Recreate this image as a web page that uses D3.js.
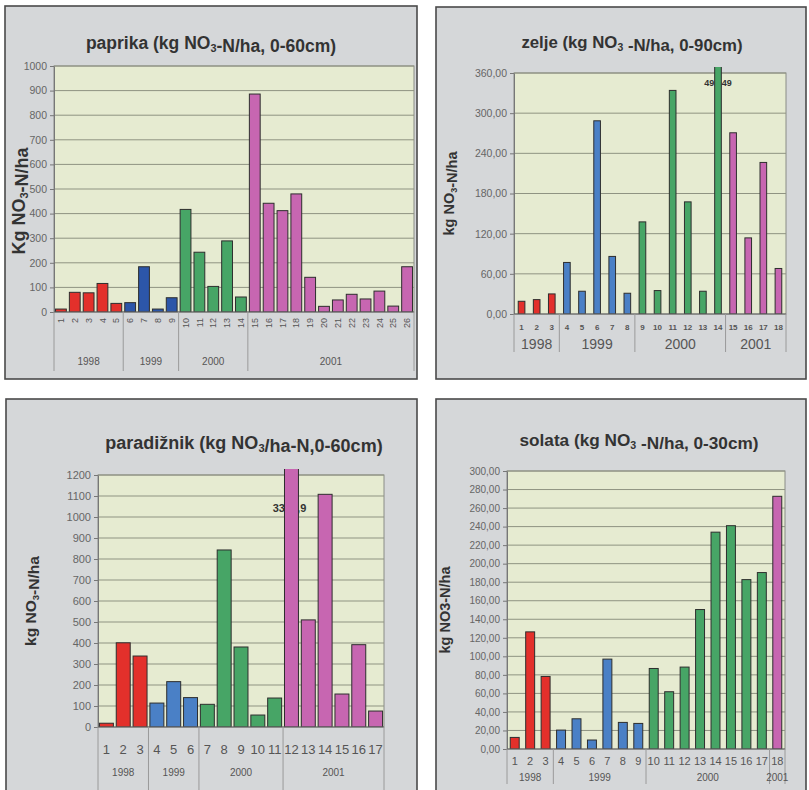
<!DOCTYPE html>
<html><head><meta charset="utf-8">
<script src="https://cdn.jsdelivr.net/npm/d3@7"></script>
<style>
body{margin:0;background:#fff}
svg{display:block}
text{font-family:"Liberation Sans",Arial,Helvetica,sans-serif}
</style>
</head><body>
<svg id="chart" width="809" height="790"></svg>
<script>
// ---- paprika (0-60 cm) ----
const paprikaCategories = d3.range(1, 27).map(String);
const paprikaValues = [12, 80, 78, 116, 35, 38, 184, 12, 58, 417, 243, 104, 289, 61, 886, 442, 412, 480, 141, 23, 49, 72, 53, 85, 24, 184];
const paprikaYears = ["1998", "1999", "2000", "2001"];
const paprikaYearSizes = [5, 4, 5, 12];
const paprikaTicks = [0, 100, 200, 300, 400, 500, 600, 700, 800, 900, 1000];

// ---- zelje (0-90 cm) ----
const zeljeCategories = d3.range(1, 19).map(String);
const zeljeValues = [19, 21.5, 30, 77, 34, 288.6, 86, 31, 137.6, 35, 334, 167.5, 34, 495.49, 270.7, 113.7, 226.4, 68];
const zeljeYears = ["1998", "1999", "2000", "2001"];
const zeljeYearSizes = [3, 5, 6, 4];
const zeljeTicks = [0, 60, 120, 180, 240, 300, 360];

// ---- paradižnik (0-60 cm) ----
const paradiznikCategories = d3.range(1, 18).map(String);
const paradiznikValues = [18, 401, 338, 114, 216, 140, 108, 843, 381, 57, 138, 3377.9, 510, 1108, 157, 392, 76];
const paradiznikYears = ["1998", "1999", "2000", "2001"];
const paradiznikYearSizes = [3, 3, 5, 6];
const paradiznikTicks = [0, 100, 200, 300, 400, 500, 600, 700, 800, 900, 1000, 1100, 1200];

// ---- solata (0-30 cm) ----
const solataCategories = d3.range(1, 19).map(String);
const solataValues = [12.5, 126.4, 78.3, 20.4, 32.6, 9.7, 97, 28.7, 27.6, 86.9, 61.8, 88.4, 150.5, 234, 241, 182.8, 190.4, 272.7];
const solataYears = ["1998", "1999", "2000", "2001"];
const solataYearSizes = [3, 6, 8, 1];
const solataTicks = d3.range(0, 301, 20);

const svg = d3.select("#chart");
const commaFormat = d => d3.format(".2f")(d).replace(".", ",");
const intFormat = d => String(d);

function addParts(textSel, parts, subSize) {
  parts.forEach(p => {
    if (p.sub) {
      textSel.append("tspan").attr("font-size", subSize).attr("dy", 3).text(p.t);
      textSel.append("tspan").attr("dy", -3).text("");
    } else {
      textSel.append("tspan").text(p.t);
    }
  });
}

function drawPanel(o) {
  const g = svg.append("g");
  // frame
  g.append("rect")
    .attr("x", o.frame.x).attr("y", o.frame.y)
    .attr("width", o.frame.w).attr("height", o.frame.h)
    .attr("fill", "#d5d7d9").attr("stroke", "#4a4a4a").attr("stroke-width", 1.6);

  // title
  const title = g.append("text")
    .attr("x", o.titleX).attr("y", o.titleY)
    .attr("text-anchor", "middle").attr("font-weight", "bold")
    .attr("font-size", o.titleSize).attr("fill", "#333");
  addParts(title, o.titleParts, o.titleSize * 0.62);

  // y title
  const yt = g.append("text")
    .attr("transform", `translate(${o.yTitleX},${(o.plot.t + o.plot.b) / 2 + o.yTitleShift}) rotate(-90)`)
    .attr("text-anchor", "middle").attr("font-weight", "bold")
    .attr("font-size", o.yTitleSize).attr("fill", "#333");
  addParts(yt, o.yTitleParts, o.yTitleSize * 0.62);

  // plot area
  g.append("rect")
    .attr("x", o.plot.l).attr("y", o.plot.t)
    .attr("width", o.plot.r - o.plot.l).attr("height", o.plot.b - o.plot.t)
    .attr("fill", "#e6ebd1").attr("stroke", "#8a8c86").attr("stroke-width", 1);

  const x = d3.scaleBand().domain(o.categories).range([o.plot.l, o.plot.r]).paddingInner(o.padding).paddingOuter(o.padding / 2);
  const y = d3.scaleLinear().domain([0, o.ticks[o.ticks.length - 1]]).range([o.plot.b, o.plot.t]);

  // grid lines
  g.append("g").selectAll("line").data(o.ticks.slice(1))
    .join("line")
    .attr("x1", o.plot.l).attr("x2", o.plot.r)
    .attr("y1", d => y(d)).attr("y2", d => y(d))
    .attr("stroke", "#8f9382").attr("stroke-width", 1);

  // y axis
  const yAxis = g.append("g").attr("transform", `translate(${o.plot.l},0)`)
    .call(d3.axisLeft(y).tickValues(o.ticks).tickFormat(o.tickFormat).tickSizeInner(4).tickSizeOuter(0).tickPadding(3));
  yAxis.select(".domain").attr("stroke", "#777");
  yAxis.selectAll(".tick line").attr("stroke", "#777");
  yAxis.selectAll(".tick text").attr("fill", "#666").attr("font-size", o.yTickSize)
    .attr("font-family", "'Liberation Sans', Arial, sans-serif");

  // colour per category from its year group
  const colorOf = [];
  o.yearSizes.forEach((n, gi) => { for (let k = 0; k < n; k++) colorOf.push(o.colors[gi]); });

  const clipId = "clip-" + o.id;
  g.append("clipPath").attr("id", clipId).append("rect")
    .attr("x", o.plot.l).attr("y", o.plot.t - 6)
    .attr("width", o.plot.r - o.plot.l).attr("height", o.plot.b - o.plot.t + 6);

  // value label for the bar running off the scale (drawn beneath the bar)
  if (o.valueLabel) {
    const i = o.valueLabel.index;
    g.append("text")
      .attr("x", x(o.categories[i]) + x.bandwidth() / 2 + o.valueLabel.dx)
      .attr("y", y(o.valueLabel.at))
      .attr("dy", "0.35em").attr("text-anchor", "middle")
      .attr("font-size", o.valueLabel.size).attr("font-weight", "bold").attr("fill", "#333")
      .text(o.valueLabel.format(o.values[i]));
  }

  // bars
  g.append("g").attr("clip-path", `url(#${clipId})`)
    .selectAll("rect").data(o.values)
    .join("rect")
    .attr("x", (d, i) => x(o.categories[i]))
    .attr("width", x.bandwidth())
    .attr("y", d => y(d))
    .attr("height", d => o.plot.b - y(d))
    .attr("fill", (d, i) => colorOf[i])
    .attr("stroke", "#2e2e2e").attr("stroke-width", 1);

  // baseline
  g.append("line").attr("x1", o.plot.l).attr("x2", o.plot.r)
    .attr("y1", o.plot.b).attr("y2", o.plot.b).attr("stroke", "#666");

  // category labels
  const cl = g.append("g").selectAll("text").data(o.categories).join("text")
    .attr("fill", o.catColor).attr("font-size", o.catSize).attr("font-weight", o.catBold ? "bold" : "normal")
    .text(d => d);
  if (o.catRotate) {
    cl.attr("transform", d => `translate(${x(d) + x.bandwidth() / 2},${o.catY}) rotate(-90)`)
      .attr("text-anchor", "end").attr("dy", "0.35em");
  } else {
    cl.attr("x", d => x(d) + x.bandwidth() / 2).attr("y", o.catY)
      .attr("text-anchor", "middle").attr("dy", "0.35em");
  }

  // year group separators and labels
  const step = x.step();
  let start = 0;
  const bounds = [0];
  o.yearSizes.forEach(n => { start += n; bounds.push(start); });
  g.append("g").selectAll("line").data(bounds).join("line")
    .attr("x1", d => o.plot.l + d * step).attr("x2", d => o.plot.l + d * step)
    .attr("y1", o.plot.b).attr("y2", o.sepBottom)
    .attr("stroke", "#9a9a9a").attr("stroke-width", 1);
  g.append("g").selectAll("text").data(o.years).join("text")
    .attr("x", (d, i) => o.plot.l + (bounds[i] + bounds[i + 1]) / 2 * step)
    .attr("y", o.yearY).attr("dy", "0.35em")
    .attr("text-anchor", "middle").attr("font-size", o.yearSize).attr("fill", "#555")
    .text(d => d);
}

drawPanel({
  id: "paprika",
  frame: {x: 5, y: 6, w: 412, h: 373},
  plot: {l: 54, r: 414, t: 66, b: 312},
  titleParts: [{t: "paprika (kg NO"}, {t: "3", sub: true}, {t: "-N/ha, 0-60cm)"}],
  titleX: 211, titleY: 49, titleSize: 17.5,
  yTitleParts: [{t: "Kg NO"}, {t: "3", sub: true}, {t: "-N/ha"}],
  yTitleX: 25, yTitleShift: 12, yTitleSize: 18,
  categories: paprikaCategories, values: paprikaValues,
  years: paprikaYears, yearSizes: paprikaYearSizes,
  colors: ["#e3302b", "#2c56a9", "#47a566", "#c766b1"],
  ticks: paprikaTicks, tickFormat: intFormat, yTickSize: 10.5,
  padding: 0.22,
  catRotate: true, catY: 318, catSize: 9, catColor: "#555",
  yearY: 361, yearSize: 10, sepBottom: 371
});

drawPanel({
  id: "zelje",
  frame: {x: 436, y: 7, w: 370, h: 372},
  plot: {l: 514, r: 786, t: 73, b: 314},
  titleParts: [{t: "zelje (kg NO"}, {t: "3", sub: true}, {t: " -N/ha, 0-90cm)"}],
  titleX: 632, titleY: 48, titleSize: 16.8,
  yTitleParts: [{t: "kg NO"}, {t: "3", sub: true}, {t: "-N/ha"}],
  yTitleX: 454, yTitleShift: 0, yTitleSize: 14.5,
  categories: zeljeCategories, values: zeljeValues,
  years: zeljeYears, yearSizes: zeljeYearSizes,
  colors: ["#e3302b", "#4a80c6", "#47a566", "#c766b1"],
  ticks: zeljeTicks, tickFormat: commaFormat, yTickSize: 10.5,
  padding: 0.56,
  valueLabel: {index: 13, at: 345, dx: 0, size: 9, format: d => d3.format(".2f")(d).replace(".", ",")},
  catRotate: false, catY: 327, catSize: 8, catBold: true, catColor: "#555",
  yearY: 344, yearSize: 14, sepBottom: 352
});

drawPanel({
  id: "paradiznik",
  frame: {x: 6, y: 399, w: 411, h: 400},
  plot: {l: 98, r: 384, t: 475, b: 727},
  titleParts: [{t: "paradižnik (kg NO"}, {t: "3", sub: true}, {t: "/ha-N,0-60cm)"}],
  titleX: 244, titleY: 449, titleSize: 18,
  yTitleParts: [{t: "kg NO"}, {t: "3", sub: true}, {t: "-N/ha"}],
  yTitleX: 36, yTitleShift: 0, yTitleSize: 15.5,
  categories: paradiznikCategories, values: paradiznikValues,
  years: paradiznikYears, yearSizes: paradiznikYearSizes,
  colors: ["#e3302b", "#4a80c6", "#47a566", "#c766b1"],
  ticks: paradiznikTicks, tickFormat: intFormat, yTickSize: 11,
  padding: 0.17,
  valueLabel: {index: 11, at: 1040, dx: -2, size: 11, format: d => d3.format(".1f")(d).replace(".", ",")},
  catRotate: false, catY: 749, catSize: 13, catColor: "#555",
  yearY: 772, yearSize: 10, sepBottom: 800
});

drawPanel({
  id: "solata",
  frame: {x: 436, y: 399, w: 370, h: 400},
  plot: {l: 507, r: 785, t: 471, b: 749},
  titleParts: [{t: "solata (kg NO"}, {t: "3", sub: true}, {t: " -N/ha, 0-30cm)"}],
  titleX: 639, titleY: 446, titleSize: 17.2,
  yTitleParts: [{t: "kg NO3-N/ha"}],
  yTitleX: 450, yTitleShift: 0, yTitleSize: 14.5,
  categories: solataCategories, values: solataValues,
  years: solataYears, yearSizes: solataYearSizes,
  colors: ["#e3302b", "#4a80c6", "#47a566", "#c766b1"],
  ticks: solataTicks, tickFormat: commaFormat, yTickSize: 10,
  padding: 0.42,
  catRotate: false, catY: 761, catSize: 11, catColor: "#555",
  yearY: 777, yearSize: 10, sepBottom: 784
});
</script>
</body></html>
